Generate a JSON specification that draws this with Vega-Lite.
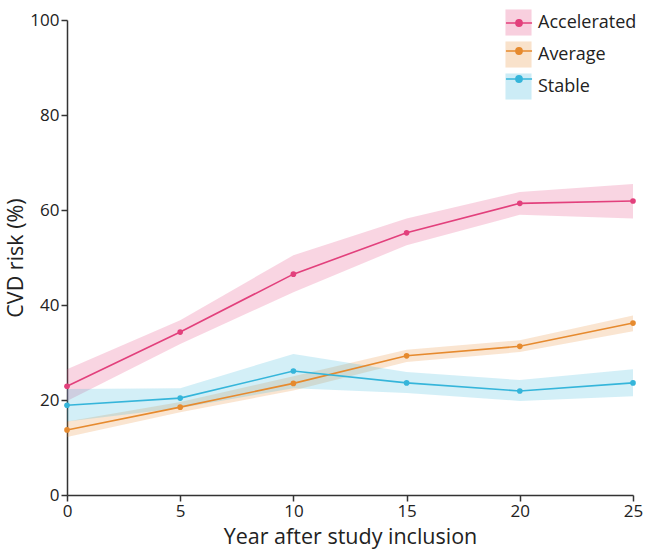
{
  "$schema": "https://vega.github.io/schema/vega-lite/v6.json",
  "width": 566,
  "height": 475,
  "autosize": {"type": "none"},
  "padding": {"left": 67, "top": 20, "right": 14, "bottom": 58},
  "background": "white",
  "config": {
    "view": {"stroke": null},
    "font": "Open Sans",
    "axis": {
      "grid": false,
      "domainColor": "#333333",
      "domainWidth": 1.5,
      "tickColor": "#333333",
      "tickWidth": 1.5,
      "tickSize": 6,
      "labelFont": "Open Sans",
      "labelFontSize": 17,
      "labelColor": "#222222",
      "titleFont": "Open Sans",
      "titleFontSize": 21.5,
      "titleFontWeight": "normal",
      "titleColor": "#222222"
    }
  },
  "data": {
    "values": [
      {"group": "Accelerated", "year": 0, "risk": 22.9, "lo": 19.8, "hi": 26.5},
      {"group": "Accelerated", "year": 5, "risk": 34.3, "lo": 31.8, "hi": 36.8},
      {"group": "Accelerated", "year": 10, "risk": 46.5, "lo": 42.7, "hi": 50.5},
      {"group": "Accelerated", "year": 15, "risk": 55.2, "lo": 52.6, "hi": 58.2},
      {"group": "Accelerated", "year": 20, "risk": 61.4, "lo": 59.0, "hi": 63.8},
      {"group": "Accelerated", "year": 25, "risk": 61.9, "lo": 58.2, "hi": 65.5},
      {"group": "Average", "year": 0, "risk": 13.7, "lo": 12.2, "hi": 15.5},
      {"group": "Average", "year": 5, "risk": 18.5, "lo": 17.4, "hi": 19.6},
      {"group": "Average", "year": 10, "risk": 23.5, "lo": 22.0, "hi": 25.0},
      {"group": "Average", "year": 15, "risk": 29.3, "lo": 28.0, "hi": 30.6},
      {"group": "Average", "year": 20, "risk": 31.3, "lo": 30.1, "hi": 32.6},
      {"group": "Average", "year": 25, "risk": 36.2, "lo": 34.5, "hi": 37.8},
      {"group": "Stable", "year": 0, "risk": 18.9, "lo": 15.5, "hi": 22.3},
      {"group": "Stable", "year": 5, "risk": 20.4, "lo": 18.3, "hi": 22.5},
      {"group": "Stable", "year": 10, "risk": 26.1, "lo": 22.5, "hi": 29.7},
      {"group": "Stable", "year": 15, "risk": 23.6, "lo": 21.5, "hi": 25.9},
      {"group": "Stable", "year": 20, "risk": 21.9, "lo": 19.8, "hi": 24.2},
      {"group": "Stable", "year": 25, "risk": 23.6, "lo": 20.8, "hi": 26.5}
    ]
  },
  "encoding": {
    "x": {
      "field": "year",
      "type": "quantitative",
      "scale": {"domain": [0, 25], "nice": false},
      "axis": {"values": [0, 5, 10, 15, 20, 25], "title": "Year after study inclusion", "labelPadding": 2, "titlePadding": 7, "labelFlush": false}
    }
  },
  "layer": [
    {
      "mark": {"type": "area", "opacity": 0.22},
      "encoding": {
        "y": {"field": "lo", "type": "quantitative", "scale": {"domain": [0, 100], "nice": false},
          "axis": {"values": [0, 20, 40, 60, 80, 100], "title": "CVD risk (%)", "labelPadding": 2, "titlePadding": 2}},
        "y2": {"field": "hi"},
        "fill": {
          "field": "group",
          "type": "nominal",
          "scale": {"domain": ["Accelerated", "Average", "Stable"], "range": ["#e2407c", "#e68a2e", "#35b5da"]},
          "legend": {
            "orient": "none",
            "legendX": 438,
            "legendY": -11,
            "title": null,
            "padding": 0,
            "symbolType": "square",
            "symbolSize": 680,
            "symbolOpacity": 0.25,
            "symbolStrokeWidth": 0,
            "labelFont": "Open Sans",
            "labelFontSize": 18,
            "labelColor": "#222222",
            "labelOffset": 6,
            "rowPadding": 5
          }
        }
      }
    },
    {
      "mark": {"type": "line", "strokeWidth": 1.6, "point": {"filled": true, "size": 32}},
      "encoding": {
        "y": {"field": "risk", "type": "quantitative"},
        "color": {
          "field": "group",
          "type": "nominal",
          "scale": {"domain": ["Accelerated", "Average", "Stable", "none"], "range": ["#e2407c", "#e68a2e", "#35b5da", "#999999"]},
          "legend": {
            "values": ["Accelerated", "Average", "Stable"],
            "orient": "none",
            "legendX": 438,
            "legendY": -11,
            "title": null,
            "padding": 0,
            "symbolType": "M-1,0H1M0.24,0A0.24,0.24,0,1,1,-0.24,0A0.24,0.24,0,1,1,0.24,0M0.16,0A0.16,0.16,0,1,1,-0.16,0A0.16,0.16,0,1,1,0.16,0M0.08,0A0.08,0.08,0,1,1,-0.08,0A0.08,0.08,0,1,1,0.08,0",
            "symbolSize": 680,
            "symbolStrokeWidth": 1.5,
            "labelFont": "Open Sans",
            "labelFontSize": 18,
            "labelExpr": "''",
            "labelOffset": 6,
            "rowPadding": 5
          }
        }
      }
    }
  ]
}
